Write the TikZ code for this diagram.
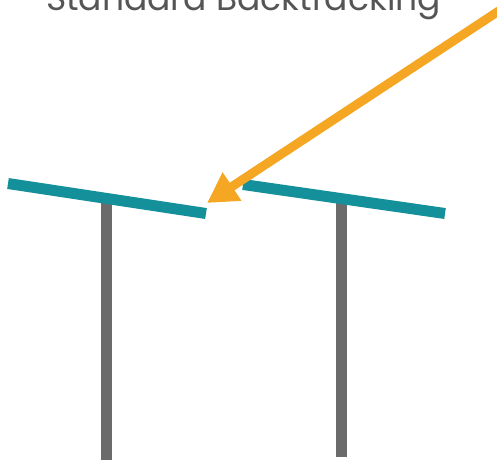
\documentclass[tikz,border=0pt]{standalone}
\usepackage{fontspec}
\setmainfont{Poppins}
\usetikzlibrary{arrows.meta}
\definecolor{teal1}{HTML}{13909A}
\definecolor{pole}{HTML}{6B6B6B}
\definecolor{orng}{HTML}{F5A623}
\definecolor{txt}{HTML}{555555}
\tikzset{
  polestyle/.style={draw=pole, line width=11pt},
  panelstyle/.style={draw=teal1, line width=11pt},
  arrowstyle/.style={draw=orng, line width=9pt, -{Triangle[length=30pt,width=32pt]}},
}
\begin{document}
\begin{tikzpicture}[x=1pt,y=-1pt]
\useasboundingbox (0,0) rectangle (497,461);
\clip (0,0) rectangle (497,461);
\node[anchor=base, text=txt, font=\fontsize{34.5}{40}\selectfont, inner sep=0pt] (title) at (243.5,10) {Standard Backtracking};
\coordinate (p1t) at (106.5,203);
\coordinate (p1b) at (106.5,460);
\coordinate (p2t) at (341,200);
\coordinate (p2b) at (341,457);
\draw[polestyle] (p1t) -- (p1b);
\draw[polestyle] (p2t) -- (p2b);
\coordinate (a1) at (8,183.5);
\coordinate (a2) at (206,213.5);
\coordinate (b1) at (243,184.5);
\coordinate (b2) at (445,213.5);
\draw[panelstyle] (a1) -- (a2);
\draw[panelstyle] (b1) -- (b2);
\coordinate (as) at (520,-3);
\coordinate (ae) at (207,203);
\draw[arrowstyle] (as) -- (ae);
\end{tikzpicture}
\end{document}
